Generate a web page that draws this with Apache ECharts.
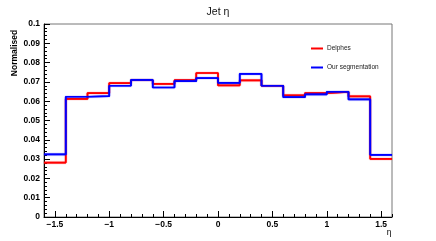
<!DOCTYPE html>
<html>
<head>
<meta charset="utf-8">
<script src="https://cdn.jsdelivr.net/npm/echarts@6/dist/echarts.min.js"></script>
<style>html,body{margin:0;padding:0;background:#fff}#c{width:436px;height:241px}</style>
</head>
<body>
<div id="c"></div>
<script>
var binEdges = [-1.6,-1.4,-1.2,-1.0,-0.8,-0.6,-0.4,-0.2,0,0.2,0.4,0.6,0.8,1.0,1.2,1.4,1.6];
var delphes = [0.0282,0.0612,0.0642,0.0694,0.0709,0.0690,0.0709,0.0746,0.0682,0.0708,0.0680,0.0630,0.0642,0.0648,0.0625,0.0301];
var ours    = [0.0324,0.0623,0.0626,0.0680,0.0710,0.0671,0.0704,0.0720,0.0695,0.0742,0.0680,0.0621,0.0635,0.0649,0.0609,0.0322];
var xMajorTicks = [-1.5,-1,-0.5,0,0.5,1,1.5];
var xMinorTicks = [-1.6,-1.5,-1.4,-1.3,-1.2,-1.1,-1.0,-0.9,-0.8,-0.7,-0.6,-0.5,-0.4,-0.3,-0.2,-0.1,0,0.1,0.2,0.3,0.4,0.5,0.6,0.7,0.8,0.9,1.0,1.1,1.2,1.3,1.4,1.5,1.6];
var seriesNames = ['Delphes','Our segmentation'];
var seriesColors = ['#ff0000','#0000ff'];

function stepData(vals){
  var d = [];
  for (var i = 0; i < vals.length; i++) d.push([binEdges[i], vals[i]]);
  d.push([binEdges[binEdges.length-1], vals[vals.length-1]]);
  return d;
}
var font = 'Liberation Sans, Arial, Helvetica, sans-serif';
var chart = echarts.init(document.getElementById('c'), null, {renderer:'canvas'});
function mkSeries(name, vals, color){
  return {
    name: name, type:'line', step:'end', xAxisIndex:0, yAxisIndex:0,
    data: stepData(vals), symbol:'none', animation:false,
    lineStyle:{color:color, width:1.7, shadowColor:color, shadowBlur:1},
    itemStyle:{color:color}
  };
}
chart.setOption({
  animation:false,
  title:{text:'Jet η', left:'center', top:2, textStyle:{fontFamily:font, fontSize:10.5, fontWeight:'normal', color:'#111'}},
  legend:{
    orient:'vertical', left:306, top:40, itemGap:12, itemWidth:12, itemHeight:2,
    icon:'rect', data:seriesNames,
    textStyle:{fontFamily:font, fontSize:6.5, color:'#222', padding:[0,0,0,-1]}
  },
  grid:{left:44, right:44, top:24, bottom:24, show:true, borderColor:'#777', borderWidth:1, backgroundColor:'transparent'},
  xAxis:[{
    type:'value', min:-1.6, max:1.6,
    axisLine:{show:true, onZero:false, lineStyle:{color:'#000', width:1}},
    axisTick:{show:true, inside:true, length:6, customValues:xMajorTicks, lineStyle:{color:'#000'}},
    axisLabel:{show:true, customValues:xMajorTicks, margin:3, fontFamily:font, fontSize:8.5, fontWeight:'bold', color:'#000',
      formatter:function(v){ return String(v).replace('-', '\u2212'); }},
    splitLine:{show:false}
  },{
    type:'value', min:-1.6, max:1.6, position:'bottom',
    axisLine:{show:false, onZero:false},
    axisTick:{show:true, inside:true, length:3, customValues:xMinorTicks, lineStyle:{color:'#000'}},
    axisLabel:{show:false},
    splitLine:{show:false}
  }],
  yAxis:{
    type:'value', min:0, max:0.1, interval:0.01,
    axisLine:{show:true, onZero:false, lineStyle:{color:'#000', width:1}},
    axisTick:{show:true, inside:true, length:6, lineStyle:{color:'#000'}},
    minorTick:{show:true, splitNumber:5, length:3, lineStyle:{color:'#000'}},
    axisLabel:{margin:4, fontFamily:font, fontSize:8.5, fontWeight:'bold', color:'#000',
      formatter:function(v){ return String(Math.round(v*100)/100); }},
    splitLine:{show:false}
  },
  graphic:[
    {type:'text', x:15, y:53, rotation:Math.PI/2,
     style:{text:'Normalised', fontFamily:font, fontSize:8.5, fontWeight:'bold', fill:'#000', align:'center', verticalAlign:'middle'}},
    {type:'text', x:389, y:233,
     style:{text:'η', fontFamily:font, fontSize:8.5, fill:'#000', align:'center', verticalAlign:'middle'}}
  ],
  series:[mkSeries(seriesNames[0], delphes, seriesColors[0]), mkSeries(seriesNames[1], ours, seriesColors[1])]
});
</script>
</body>
</html>
